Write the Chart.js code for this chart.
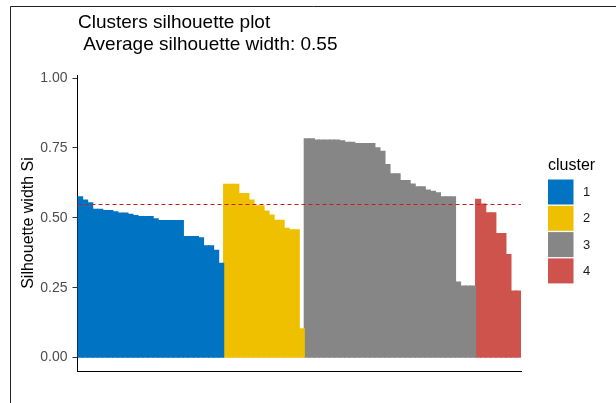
<!DOCTYPE html>
<html>
<head>
<meta charset="utf-8">
<title>Clusters silhouette plot</title>
<script src="https://cdn.jsdelivr.net/npm/chart.js@4.4.1/dist/chart.umd.min.js"></script>
<style>
  html, body { margin: 0; padding: 0; background: #fff; }
  #wrap { width: 616px; height: 403px; }
</style>
</head>
<body>
<div id="wrap"><canvas id="chart" width="616" height="403"></canvas></div>
<script>
const FONT = '"Liberation Sans", Arial, sans-serif';

// silhouette width of each observation, sorted inside its cluster
const clusterNames = ['1', '2', '3', '4'];
const clusterColors = ['#0073C2', '#EFC000', '#868686', '#CD534C'];
const cluster1Widths = [0.575, 0.563, 0.554, 0.530, 0.530, 0.526, 0.526, 0.521, 0.517, 0.517,
                        0.512, 0.508, 0.504, 0.504, 0.504, 0.496, 0.490, 0.490, 0.490, 0.490,
                        0.490, 0.433, 0.433, 0.433, 0.428, 0.400, 0.400, 0.384, 0.337];
const cluster2Widths = [0.620, 0.620, 0.620, 0.587, 0.587, 0.563, 0.543, 0.543, 0.524, 0.510,
                        0.491, 0.491, 0.462, 0.457, 0.457, 0.103];
const cluster3Widths = [0.783, 0.783, 0.778, 0.778, 0.778, 0.778, 0.778, 0.775, 0.770, 0.770,
                        0.766, 0.766, 0.766, 0.766, 0.750, 0.738, 0.690, 0.657, 0.657, 0.633,
                        0.633, 0.621, 0.611, 0.611, 0.599, 0.595, 0.589, 0.575, 0.575, 0.575,
                        0.270, 0.256, 0.256, 0.256];
const cluster4Widths = [0.566, 0.549, 0.518, 0.518, 0.444, 0.444, 0.368, 0.238, 0.238];
const avgWidth = 0.55;
const yTicks = [0, 0.25, 0.5, 0.75, 1];

const allClusters = [cluster1Widths, cluster2Widths, cluster3Widths, cluster4Widths];
const total = allClusters.reduce((n, c) => n + c.length, 0);
const labels = [];
for (let i = 1; i <= total; i++) labels.push(String(i));

// one dataset per cluster, null outside its own run of bars
let offset = 0;
const datasets = allClusters.map((widths, k) => {
    const data = new Array(total).fill(null);
    widths.forEach((w, i) => { data[offset + i] = w; });
    offset += widths.length;
    return {
        label: clusterNames[k],
        data: data,
        backgroundColor: clusterColors[k],
        borderWidth: 0,
        inflateAmount: 0.6,
        barPercentage: 1,
        categoryPercentage: 1,
        grouped: false
    };
});

const overlay = {
    id: 'overlay',
    beforeDraw(chart) {
        const ctx = chart.ctx;
        ctx.save();
        ctx.strokeStyle = '#222';
        ctx.lineWidth = 1;
        ctx.beginPath();
        ctx.moveTo(10.5, 403);
        ctx.lineTo(10.5, 6.5);
        ctx.lineTo(616, 6.5);
        ctx.stroke();
        ctx.restore();
    },
    afterDatasetsDraw(chart) {
        // average silhouette width
        const ctx = chart.ctx;
        const area = chart.chartArea;
        const y = Math.round(chart.scales.y.getPixelForValue(avgWidth)) + 0.5;
        ctx.save();
        ctx.strokeStyle = '#C81E1E';
        ctx.lineWidth = 1;
        ctx.setLineDash([4, 3]);
        ctx.beginPath();
        ctx.moveTo(area.left, y);
        ctx.lineTo(area.right, y);
        ctx.stroke();
        ctx.restore();
    },
    afterDraw(chart) {
        const ctx = chart.ctx;
        ctx.save();
        ctx.fillStyle = '#000';
        ctx.textBaseline = 'alphabetic';
        ctx.font = '19px ' + FONT;
        ctx.fillText('Clusters silhouette plot', 78, 28);
        ctx.fillText(' Average silhouette width: ' + avgWidth.toFixed(2), 78, 50);

        // legend
        ctx.font = '16px ' + FONT;
        ctx.fillText('cluster', 548, 170);
        ctx.font = '13px ' + FONT;
        ctx.textBaseline = 'middle';
        clusterNames.forEach((name, k) => {
            const top = 179.5 + k * 26.3;
            ctx.fillStyle = clusterColors[k];
            ctx.fillRect(548, top, 25.5, 25);
            ctx.fillStyle = '#1a1a1a';
            ctx.fillText(name, 583, top + 13);
        });
        ctx.restore();
    }
};

new Chart(document.getElementById('chart'), {
    type: 'bar',
    data: { labels: labels, datasets: datasets },
    plugins: [overlay],
    options: {
        responsive: false,
        animation: false,
        layout: { padding: { left: 10, top: 75, right: 95, bottom: 32 } },
        plugins: {
            legend: { display: false },
            tooltip: { enabled: false }
        },
        scales: {
            x: {
                type: 'category',
                ticks: { display: false },
                grid: { display: false, drawTicks: false },
                border: { display: true, color: '#000', width: 1 }
            },
            y: {
                min: -0.048,
                max: 1.011,
                afterBuildTicks: scale => { scale.ticks = yTicks.map(v => ({ value: v })); },
                afterFit: scale => { scale.width = 67.5; },
                ticks: {
                    callback: v => v.toFixed(2),
                    color: '#4D4D4D',
                    font: { size: 14, family: FONT },
                    padding: 5
                },
                grid: { drawOnChartArea: false, drawTicks: true, tickLength: 5, color: '#333' },
                border: { display: true, color: '#000', width: 1 },
                title: {
                    display: true,
                    text: 'Silhouette width Si',
                    color: '#000',
                    font: { size: 16, family: FONT },
                    padding: { top: 9, bottom: 0 }
                }
            }
        }
    }
});
</script>
</body>
</html>
